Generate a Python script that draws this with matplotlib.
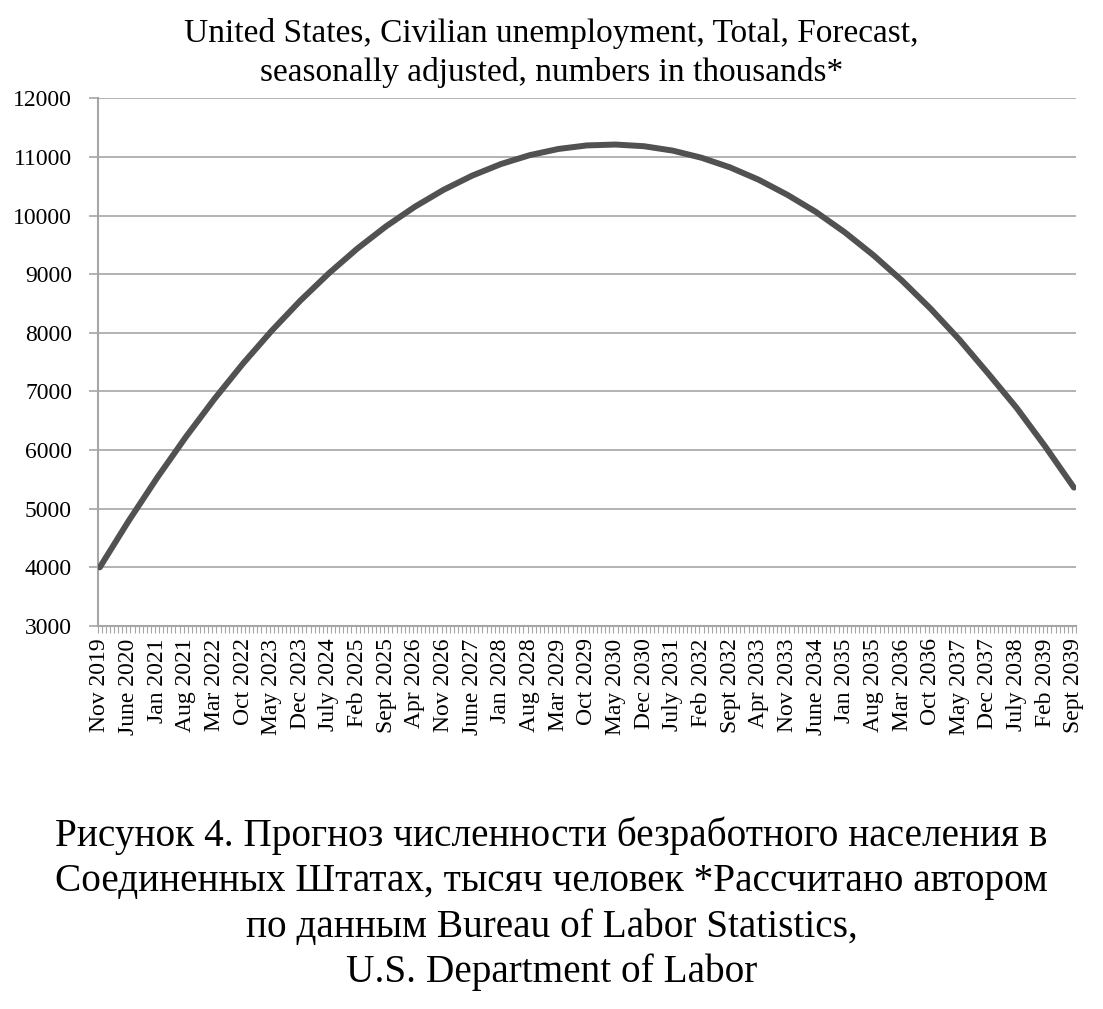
import matplotlib
matplotlib.use("Agg")
import matplotlib.pyplot as plt
import numpy as np

plt.rcParams['font.family'] = ['Liberation Serif', 'DejaVu Serif']

# Tick labels (every 7th month of the monthly series Nov 2019 .. Sept 2039)
tick_labels = ["Nov 2019", "June 2020", "Jan 2021", "Aug 2021", "Mar 2022", "Oct 2022",
               "May 2023", "Dec 2023", "July 2024", "Feb 2025", "Sept 2025", "Apr 2026",
               "Nov 2026", "June 2027", "Jan 2028", "Aug 2028", "Mar 2029", "Oct 2029",
               "May 2030", "Dec 2030", "July 2031", "Feb 2032", "Sept 2032", "Apr 2033",
               "Nov 2033", "June 2034", "Jan 2035", "Aug 2035", "Mar 2036", "Oct 2036",
               "May 2037", "Dec 2037", "July 2038", "Feb 2039", "Sept 2039"]
n_months = 239          # monthly categories, Nov 2019 .. Sept 2039
label_step = 7          # a label every 7 months

# Values (thousands) read at each labelled month
values = [4000, 4786, 5526, 6221, 6871, 7476, 8035, 8549, 9017, 9441,
          9819, 10151, 10439, 10681, 10878, 11029, 11135, 11196, 11211, 11182,
          11107, 10986, 10821, 10610, 10353, 10060, 9715, 9325, 8890, 8410,
          7885, 7310, 6720, 6060, 5360]

title = "United States, Civilian unemployment, Total, Forecast,\nseasonally adjusted, numbers in thousands*"
caption = ("Рисунок 4. Прогноз численности безработного населения в\n"
           "Соединенных Штатах, тысяч человек *Рассчитано автором\n"
           "по данным Bureau of Labor Statistics,\n"
           "U.S. Department of Labor")

grey = "#a6a6a6"
fig = plt.figure(figsize=(11.03, 10.09), dpi=100)
ax = fig.add_axes([0.0886, 0.3796, 0.9755 - 0.0886, 0.9026 - 0.3796])

pos = np.arange(len(values)) * label_step
ax.plot(pos, values, color="#515151", lw=4.3, solid_capstyle="round", zorder=3)

ax.set_xlim(-0.5, n_months - 0.5)
ax.set_ylim(3000, 12000)
ax.set_yticks(np.arange(3000, 12001, 1000))
ax.yaxis.grid(True, color=grey, lw=1.2)
ax.set_axisbelow(True)

ax.set_xticks(pos)
ax.set_xticklabels(tick_labels, rotation=90, fontsize=17)
ax.set_xticks(np.arange(-0.5, n_months, 1), minor=True)
ax.tick_params(axis='x', which='major', length=0, pad=9)
ax.tick_params(axis='x', which='minor', length=5, width=0.8, color=grey)
ax.tick_params(axis='y', length=6.5, width=1.2, color=grey, labelsize=17, pad=12)

for s in ["top", "right"]:
    ax.spines[s].set_visible(False)
for s in ["left", "bottom"]:
    ax.spines[s].set_color(grey)
    ax.spines[s].set_linewidth(1.5)

fig.text(0.5, 0.9475, title, ha="center", va="center", fontsize=24, linespacing=1.3)
fig.text(0.5, 0.104, caption, ha="center", va="center", fontsize=28.3, linespacing=1.29)

fig.savefig("out.png", dpi=100)
